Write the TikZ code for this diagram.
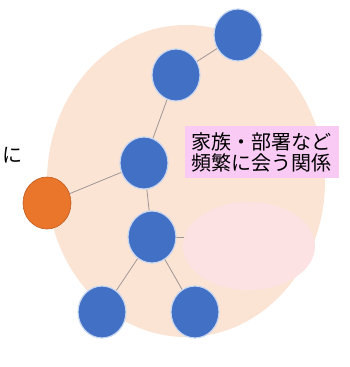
\documentclass[tikz,border=0pt]{standalone}
\usepackage{fontspec}
\newfontfamily\cjk{Noto Sans CJK JP}
\usetikzlibrary{shapes.geometric}
\definecolor{peach}{RGB}{251,228,212}
\definecolor{softpink}{RGB}{253,226,228}
\definecolor{boxpink}{RGB}{248,202,244}
\definecolor{nodeblue}{RGB}{66,112,196}
\definecolor{nodeedge}{RGB}{200,215,240}
\definecolor{nodeorange}{RGB}{234,118,44}
\definecolor{orangeedge}{RGB}{190,90,30}
\definecolor{linkgray}{RGB}{160,150,150}
\pgfdeclarelayer{bg}
\pgfdeclarelayer{mid}
\pgfsetlayers{bg,mid,main}
\tikzset{
  person/.style={ellipse, fill=nodeblue, draw=nodeedge, line width=1.2pt, minimum width=48pt, minimum height=52pt, inner sep=0pt},
  self/.style={ellipse, fill=nodeorange, draw=orangeedge, line width=0.6pt, minimum width=48pt, minimum height=52pt, inner sep=0pt},
  link/.style={draw=linkgray, line width=0.8pt},
}
\begin{document}
\begin{tikzpicture}[x=1pt,y=-1pt]
\useasboundingbox (0,0) rectangle (350,367);
\begin{pgfonlayer}{bg}
  \fill[peach] (186,181) ellipse [x radius=139, y radius=156];
  \fill[softpink] (249,246) ellipse [x radius=66, y radius=44];
\end{pgfonlayer}
\node[person] (n1) at (238,35) {};
\node[person] (n2) at (176,75) {};
\node[person] (n3) at (144,163) {};
\node[person] (n4) at (152,237) {};
\node[person] (n5) at (102,312) {};
\node[person] (n6) at (195,312) {};
\node[self] (me) at (47,203) {};
\coordinate (stub) at (184,237);
\begin{pgfonlayer}{mid}
  \draw[link] (n1.center) -- (n2.center);
  \draw[link] (n2.center) -- (n3.center);
  \draw[link] (n3.center) -- (me.center);
  \draw[link] (n3.center) -- (n4.center);
  \draw[link] (n4.center) -- (n5.center);
  \draw[link] (n4.center) -- (n6.center);
  \draw[link] (n4.center) -- (stub);
\end{pgfonlayer}
\node[fill=boxpink, inner xsep=7pt, inner ysep=6pt, align=left, font=\cjk\fontsize{20}{21}\selectfont] (label) at (261.5,152) {家族・部署など\\頻繁に会う関係};
\node[anchor=west, inner sep=0pt, font=\cjk\fontsize{20}{21}\selectfont] (ni) at (2,155) {に};
\end{tikzpicture}
\end{document}
